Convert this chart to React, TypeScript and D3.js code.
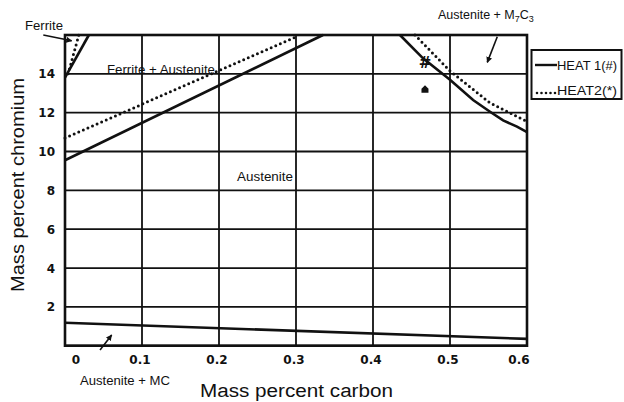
import React from "react";
import * as d3 from "d3";

// ---- data (mass % carbon, mass % chromium) ----
const xTicks = [0, 0.1, 0.2, 0.3, 0.4, 0.5, 0.6];
const xTickLabels = ["0", "0.1", "0.2", "0.3", "0.4", "0.5", "0.6"];
const yGrid = [0, 2, 4, 6, 8, 10, 12, 14, 16];
const yTickValues = [2, 4, 6, 8, 10, 12, 14];
const yTickLabels = ["2", "4", "6", "8", "10", "12", "14"];

// HEAT 1 (solid)
const heat1Ferrite: [number, number][] = [[0, 13.8], [0.031, 16]];
const heat1Lower: [number, number][] = [[0, 9.55], [0.335, 16]];
const heat1Carbide: [number, number][] = [
  [0.435, 16], [0.465, 14.8], [0.5, 13.7], [0.53, 12.65], [0.552, 12.05],
  [0.569, 11.6], [0.587, 11.28], [0.6, 11.0],
];
const heat1MC: [number, number][] = [[0, 1.18], [0.6, 0.35]];

// HEAT 2 (dotted)
const heat2Ferrite: [number, number][] = [[0.004, 14.0], [0.018, 16]];
const heat2Lower: [number, number][] = [[0, 10.7], [0.3, 15.9]];
const heat2Carbide: [number, number][] = [
  [0.4545, 16], [0.5, 14.15], [0.552, 12.5], [0.587, 11.8], [0.6, 11.55],
];

// markers
const markerX = [0.4675, 0.4675];
const markerY = [14.62, 13.2];
const markerSym = ["#", "*"];

// region labels [x, y(baseline)]
const regionLabels = [
  { text: "Ferrite", x: -0.052, y: 16.28, len: 38 },
  { text: "Ferrite + Austenite", x: 0.0545, y: 14.0, len: 108 },
  { text: "Austenite", x: 0.2234, y: 8.46, len: 56 },
  { text: "Austenite + MC", x: 0.0195, y: -2.02, len: 90 },
];

// annotation arrows [from, to] in data units
const arrows: [number, number, number, number][] = [
  [-0.0282, 16.0, 0.0087, 15.7],
  [0.5614, 15.91, 0.5484, 14.59],
  [0.0455, -0.22, 0.0606, 0.55],
];

const W = 624;
const H = 402;
const plot = { left: 65, right: 527, top: 35, bottom: 345.7 };

export default function App() {
  const x = d3.scaleLinear().domain([0, 0.6]).range([plot.left, plot.right]);
  const y = d3.scaleLinear().domain([0, 16]).range([plot.bottom, plot.top]);
  const line = d3
    .line<[number, number]>()
    .x((d) => x(d[0]))
    .y((d) => y(d[1]));

  const solid = { fill: "none", stroke: "#111", strokeWidth: 2.6 };
  const dotted = {
    fill: "none",
    stroke: "#111",
    strokeWidth: 3,
    strokeDasharray: "0 5",
    strokeLinecap: "round" as const,
  };
  const tickFont = "DejaVu Sans, sans-serif";
  const textFont = "Liberation Sans, Arial, sans-serif";

  return (
    <svg
      width={W}
      height={H}
      style={{ position: "absolute", left: 0, top: 0, background: "#fff" }}
    >
      <defs>
        <marker
          id="ah"
          viewBox="0 0 10 10"
          refX="9"
          refY="5"
          markerWidth="6"
          markerHeight="6"
          orient="auto"
          markerUnits="userSpaceOnUse"
        >
          <path d="M0,0 L10,5 L0,10 Z" fill="#111" />
        </marker>
      </defs>
      <rect width={W} height={H} fill="#fff" />

      {/* grid */}
      {xTicks.map((t) => (
        <line
          key={"gx" + t}
          x1={x(t)}
          x2={x(t)}
          y1={plot.top}
          y2={plot.bottom}
          stroke="#111"
          strokeWidth={1.8}
        />
      ))}
      {yGrid.map((t) => (
        <line
          key={"gy" + t}
          x1={plot.left}
          x2={plot.right}
          y1={y(t)}
          y2={y(t)}
          stroke="#111"
          strokeWidth={1.8}
        />
      ))}
      <rect
        x={plot.left}
        y={plot.top}
        width={plot.right - plot.left}
        height={plot.bottom - plot.top}
        fill="none"
        stroke="#111"
        strokeWidth={2.6}
      />

      {/* tick labels */}
      {xTicks.map((t, i) => (
        <text
          key={"tx" + t}
          x={x(t) + (i === 0 ? 11 : i === xTicks.length - 1 ? -8 : -2)}
          y={364}
          textAnchor="middle"
          fontFamily={tickFont}
          fontWeight="bold"
          fontSize={12}
          fill="#111"
        >
          {xTickLabels[i]}
        </text>
      ))}
      {yTickValues.map((t, i) => (
        <text
          key={"ty" + t}
          x={55}
          y={y(t) + 4.5}
          textAnchor="end"
          fontFamily={tickFont}
          fontWeight="bold"
          fontSize={12}
          fill="#111"
        >
          {yTickLabels[i]}
        </text>
      ))}

      {/* HEAT 1 solid */}
      <path d={line(heat1Ferrite) || ""} {...solid} />
      <path d={line(heat1Lower) || ""} {...solid} />
      <path d={line(heat1Carbide) || ""} {...solid} />
      <path d={line(heat1MC) || ""} {...solid} />

      {/* HEAT 2 dotted */}
      <path d={line(heat2Ferrite) || ""} {...dotted} />
      <path d={line(heat2Lower) || ""} {...dotted} />
      <path d={line(heat2Carbide) || ""} {...dotted} />

      {/* markers */}
      {markerSym.map((s, i) =>
        s === "#" ? (
          <text
            key={"m" + i}
            x={x(markerX[i])}
            y={y(markerY[i]) + 6}
            textAnchor="middle"
            fontFamily={tickFont}
            fontWeight="bold"
            fontSize={15}
            fill="#111"
          >
            #
          </text>
        ) : (
          <path
            key={"m" + i}
            transform={`translate(${x(markerX[i])},${y(markerY[i])})`}
            d="M-3.5,3.5 L-3.5,-0.5 L0,-4 L3.5,-0.5 L3.5,3.5 Z"
            fill="#111"
          />
        )
      )}

      {/* region labels */}
      {regionLabels.map((r) => (
        <text
          key={r.text}
          x={x(r.x)}
          y={y(r.y)}
          fontFamily={textFont}
          fontSize={12.5}
          textLength={r.len}
          lengthAdjust="spacingAndGlyphs"
          fill="#111"
        >
          {r.text}
        </text>
      ))}
      <text
        x={x(0.4844)}
        y={y(16.82)}
        fontFamily={textFont}
        fontSize={12.5}
        fill="#111"
      >
        Austenite + M
        <tspan fontSize={9} dy={3}>7</tspan>
        <tspan fontSize={12.5} dy={-3}>C</tspan>
        <tspan fontSize={9} dy={3}>3</tspan>
      </text>

      {/* arrows */}
      {arrows.map((a, i) => (
        <line
          key={"a" + i}
          x1={x(a[0])}
          y1={y(a[1])}
          x2={x(a[2])}
          y2={y(a[3])}
          stroke="#111"
          strokeWidth={1.6}
          markerEnd="url(#ah)"
        />
      ))}

      {/* axis titles */}
      <text
        x={200}
        y={397}
        fontFamily={textFont}
        fontSize={18}
        textLength={193}
        lengthAdjust="spacingAndGlyphs"
        fill="#111"
      >
        Mass percent carbon
      </text>
      <text
        transform="translate(24,292) rotate(-90)"
        fontFamily={textFont}
        fontSize={18}
        textLength={214}
        lengthAdjust="spacingAndGlyphs"
        fill="#111"
      >
        Mass percent chromium
      </text>

      {/* legend */}
      <rect x={531.5} y={50} width={90} height={49} fill="#fff" stroke="#111" strokeWidth={2} />
      <line x1={535} x2={557} y1={65} y2={65} stroke="#111" strokeWidth={2.4} />
      <text x={557} y={70} fontFamily={textFont} fontSize={13} textLength={60} lengthAdjust="spacingAndGlyphs" fill="#111">
        HEAT 1(#)
      </text>
      <line
        x1={537}
        x2={556}
        y1={93}
        y2={93}
        stroke="#111"
        strokeWidth={2.6}
        strokeDasharray="0 4.5"
        strokeLinecap="round"
      />
      <text x={557} y={95} fontFamily={textFont} fontSize={13} textLength={60} lengthAdjust="spacingAndGlyphs" fill="#111">
        HEAT2(*)
      </text>
    </svg>
  );
}
